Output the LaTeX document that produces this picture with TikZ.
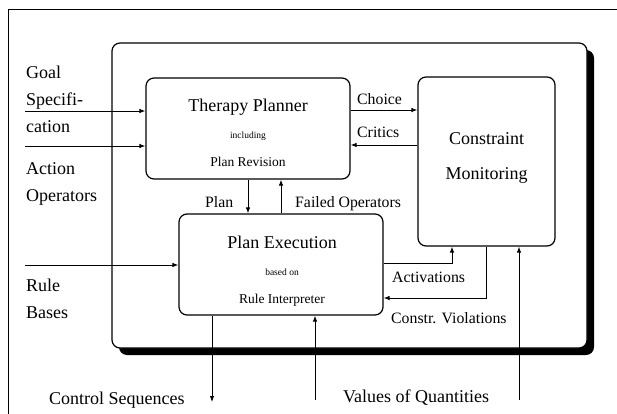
\documentclass[tikz,border=0pt]{standalone}
\usepackage{fontspec}
\setmainfont{Liberation Serif}
\usetikzlibrary{arrows.meta}
\begin{document}
\begin{tikzpicture}[x=1pt,y=-1pt,
  block/.style={draw,line width=1.2pt,rounded corners=8pt,fill=white,inner sep=0pt},
  arr/.style={-{Latex[length=6pt,width=4.5pt]},line width=0.9pt},
  title/.style={font=\fontsize{18}{20}\selectfont,inner sep=0pt,anchor=base},
  sub/.style={font=\fontsize{13.5}{15}\selectfont,inner sep=0pt,anchor=base},
  note/.style={font=\fontsize{9.5}{11}\selectfont,inner sep=0pt,anchor=base},
  lbl/.style={font=\fontsize{15.8}{18}\selectfont,inner sep=0pt,anchor=base west},
  inlbl/.style={font=\fontsize{18}{20}\selectfont,inner sep=0pt,anchor=base west}]
\useasboundingbox (0,0) rectangle (617,414);

% page frame
\draw[line width=0.8pt] (8,414) -- (8,9) -- (617,9);

% system box with drop shadow
\fill[rounded corners=8pt] (119,50) rectangle (594,355);
\node[block, minimum width=475pt, minimum height=305pt] (sys) at (349.5,195.5) {};

% components
\node[block, minimum width=204pt, minimum height=101pt] (tp) at (248,128.5) {};
\node[block, minimum width=137pt, minimum height=169pt] (cm) at (486.5,161.5) {};
\node[block, minimum width=204pt, minimum height=101pt] (pe) at (281,264.5) {};

% component texts
\node[title] (tpa) at (248,112) {Therapy Planner};
\node[note]  (tpb) at (248,139) {including};
\node[sub]   (tpc) at (248,166) {Plan Revision};
\node[title] (cma) at (486.5,145) {Constraint};
\node[title] (cmb) at (486.5,179) {Monitoring};
\node[title] (pea) at (282,248) {Plan Execution};
\node[note]  (peb) at (282,275) {based on};
\node[sub]   (pec) at (282,303) {Rule Interpreter};

% external inputs
\node[inlbl] (l1) at (26,79)  {Goal};
\node[inlbl] (l2) at (26,106) {Specifi-};
\node[inlbl] (l3) at (26,133) {cation};
\node[inlbl] (l4) at (26,174) {Action};
\node[inlbl] (l5) at (26,201) {Operators};
\node[inlbl] (l6) at (26,291) {Rule};
\node[inlbl] (l7) at (26,318) {Bases};
\coordinate (goalin) at (25,111);
\coordinate (actin)  at (25,146);
\coordinate (rulein) at (25,265);
\draw[arr] (goalin) -- (goalin -| tp.west);
\draw[arr] (actin)  -- (actin -| tp.west);
\draw[arr] (rulein) -- (rulein -| pe.west);

% planner <-> monitoring
\coordinate (chy) at (0,110);
\coordinate (cry) at (0,145);
\draw[arr] (tp.east |- chy) -- (cm.west |- chy);
\draw[arr] (cm.west |- cry) -- (tp.east |- cry);
\node[lbl] (chl) at (357,105) {Choice};
\node[lbl] (crl) at (357,138) {Critics};

% planner <-> execution
\draw[arr] (tp.south) -- (tp.south |- pe.north);
\draw[arr] (pe.north) -- (pe.north |- tp.south);
\node[lbl] (pll) at (205,207) {Plan};
\node[lbl] (fol) at (295,207) {Failed Operators};

% execution <-> monitoring
\coordinate (act) at (452,263);
\coordinate (cv)  at (486.5,298);
\draw[arr] (act -| pe.east) -- (act) -- (act |- cm.south);
\draw[arr] (cv |- cm.south) -- (cv) -- (cv -| pe.east);
\node[lbl] (acl) at (392,282) {Activations};
\node[lbl] (cvl) at (391,323) {Constr. Violations};

% process interface
\coordinate (cs) at (212,402);
\coordinate (vp) at (315,400);
\coordinate (vq) at (519,400);
\draw[arr] (cs |- pe.south) -- (cs);
\draw[arr] (vp) -- (vp |- pe.south);
\draw[arr] (vq) -- (vq |- cm.south);
\node[inlbl] (csl) at (49,404)  {Control Sequences};
\node[inlbl] (vql) at (343,402) {Values of Quantities};
\end{tikzpicture}
\end{document}
